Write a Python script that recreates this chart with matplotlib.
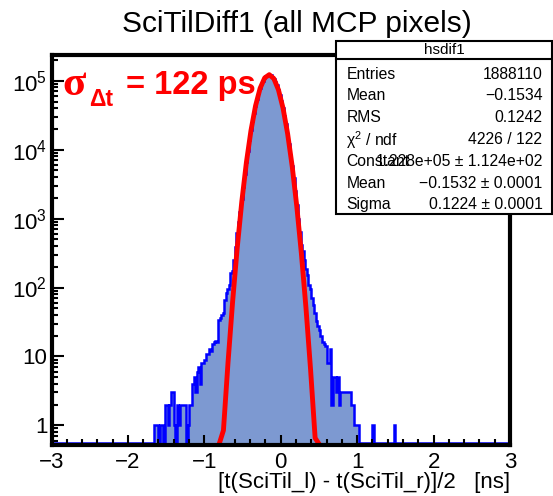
import numpy as np
import matplotlib
matplotlib.use("Agg")
import matplotlib.pyplot as plt
from matplotlib.patches import Rectangle
from matplotlib.lines import Line2D
from matplotlib.ticker import FixedLocator, LogLocator, MultipleLocator, NullFormatter

plt.rcParams['font.family'] = ['Liberation Sans', 'DejaVu Sans']
plt.rcParams['mathtext.fontset'] = 'custom'
plt.rcParams['mathtext.rm'] = 'Liberation Sans'
plt.rcParams['mathtext.it'] = 'Liberation Sans:italic'
plt.rcParams['mathtext.bf'] = 'Liberation Sans:bold'

# hsdif1: 300 bins of 0.02 ns on [-3, 3]; only the populated stretch is listed,
# starting at the bin whose low edge is FIRST_EDGE
X_MIN, X_MAX = -3.0, 3.0
BIN_WIDTH = 0.02
FIRST_EDGE = -1.66
counts = [
    1, 1, 1, 0, 1, 1, 0, 2, 2, 1,                                   # -1.65 .. -1.47
    2, 3, 3, 1, 0, 2, 1, 2, 2, 2,                                   # -1.45 .. -1.27
    2, 0, 1, 2, 2, 4, 5, 3, 6, 7,                                   # -1.25 .. -1.07
    4, 8, 8, 9, 11, 11, 13, 12, 15, 16,                             # -1.05 .. -0.87
    17, 16, 34, 36, 40, 42, 66, 82, 95, 110,                        # -0.85 .. -0.67
    160, 175, 250, 390, 610, 900, 1250, 1900, 2900, 4400,           # -0.65 .. -0.47
    6550, 9600, 13700, 19000, 25700, 33800, 43300, 54000, 65700, 77800,
    89700, 100700, 110100, 117300, 121600, 122700, 120600, 115400, 107500, 97500,
    86100, 74000, 62000, 50500, 40100, 31000, 23300, 17100, 12200, 8500,
    5800, 3850, 2500, 1600, 1000, 640, 420, 340, 250, 185,          # 0.15 .. 0.33
    150, 110, 95, 70, 55, 42, 33, 28, 24, 20,                       # 0.35 .. 0.53
    16, 15, 14, 8, 8, 13, 2, 5, 5, 3,                               # 0.55 .. 0.73
    5, 2, 3, 3, 3, 3, 3, 3, 3, 2,                                   # 0.75 .. 0.93
    2, 1, 1, 1, 0, 0, 0, 0, 0, 0,                                   # 0.95 .. 1.13
    0, 0, 0, 1, 0, 0, 0, 0, 0, 0,                                   # 1.15 .. 1.33
    0, 0, 0, 0, 0, 0, 0, 1,                                         # 1.35 .. 1.49
]

# gaus fit result
FIT_CONST = 1.228e5
FIT_MEAN = -0.1532
FIT_SIGMA = 0.1224
FIT_NPX = 100

X_TICKS = [-3, -2, -1, 0, 1, 2, 3]
X_TICK_LABELS = ["\u22123", "\u22122", "\u22121", "0", "1", "2", "3"]
Y_TICKS = [1, 10, 1e2, 1e3, 1e4, 1e5]
Y_TICK_LABELS = ["1", "10", r"$\mathregular{10^{2}}$", r"$\mathregular{10^{3}}$",
                 r"$\mathregular{10^{4}}$", r"$\mathregular{10^{5}}$"]
Y_LO, Y_HI = 0.518, 2.344e5
EMPTY_LEVEL = 0.563

TITLE = "SciTilDiff1 (all MCP pixels)"
X_LABEL = "[t(SciTil_l) - t(SciTil_r)]/2   [ns]"
STAT_NAME = "hsdif1"
STAT_LABELS = ["Entries", "Mean", "RMS", r"$\mathregular{\chi^{2}}$ / ndf",
               "Constant", "Mean", "Sigma"]
STAT_VALUES = ["1888110", "\u22120.1534", "0.1242", "4226 / 122",
               "1.228e+05 \u00b1 1.124e+02", "\u22120.1532 \u00b1 0.0001",
               "0.1224 \u00b1 0.0001"]

W, H = 553, 496
FILL = "#7d99d1"


def fx(px):
    return px / W


def fy(py):
    return 1.0 - py / H


nbins = int(round((X_MAX - X_MIN) / BIN_WIDTH))
edges = X_MIN + BIN_WIDTH * np.arange(nbins + 1)
values = np.zeros(nbins)
i0 = int(round((FIRST_EDGE - X_MIN) / BIN_WIDTH))
values[i0:i0 + len(counts)] = counts
shown = np.where(values > 0, values, EMPTY_LEVEL)

fig = plt.figure(figsize=(W / 100, H / 100), dpi=100)
ax = fig.add_axes([fx(51.5), fy(445), fx(510) - fx(51.5), fy(55.3) - fy(445)])

ax.stairs(shown, edges, baseline=EMPTY_LEVEL, fill=True, color=FILL, zorder=1)
ax.stairs(shown, edges, baseline=EMPTY_LEVEL, color="#0000ff", lw=1.8, zorder=1.5)

# fit function sampled like TF1 (npx points), clipped at the frame minimum
xf = X_MIN + (np.arange(FIT_NPX) + 0.5) * (X_MAX - X_MIN) / FIT_NPX
yf = FIT_CONST * np.exp(-0.5 * ((xf - FIT_MEAN) / FIT_SIGMA) ** 2)
above = yf >= Y_LO
keep = above | np.roll(above, 1) | np.roll(above, -1)
yf = np.where(keep, np.maximum(yf, Y_LO), np.nan)
ax.plot(xf, yf, color="#ff0000", lw=3.5, zorder=2, solid_joinstyle="round")

ax.set_xlim(X_MIN, X_MAX)
ax.set_yscale("log")
ax.set_ylim(Y_LO, Y_HI)

ax.xaxis.set_major_locator(FixedLocator(X_TICKS))
ax.set_xticklabels(X_TICK_LABELS)
ax.xaxis.set_minor_locator(MultipleLocator(0.2))
ax.yaxis.set_major_locator(FixedLocator(Y_TICKS))
ax.set_yticklabels(Y_TICK_LABELS)
ax.yaxis.set_minor_locator(LogLocator(base=10, subs=np.arange(2, 10)))
ax.yaxis.set_minor_formatter(NullFormatter())

ax.tick_params(which="both", direction="in", top=False, right=False,
               width=1.5, labelsize=16, colors="black")
ax.tick_params(axis="x", which="major", length=7.5, pad=5)
ax.tick_params(axis="x", which="minor", length=4)
ax.tick_params(axis="y", which="major", length=8.5, pad=3)
ax.tick_params(axis="y", which="minor", length=4.5)
for sp in ax.spines.values():
    sp.set_linewidth(3.0)
    sp.set_zorder(3)

fig.text(fx(297), fy(32), TITLE, ha="center", va="baseline", fontsize=21.5)
fig.text(fx(510), fy(488), X_LABEL, ha="right", va="baseline", fontsize=16)

# resolution label: sigma with a bold Delta-t subscript
fig.text(fx(62), fy(95), "\u03c3", color="#ff0000", fontsize=31,
         family=["Liberation Serif", "DejaVu Serif"], fontweight="bold",
         va="baseline", ha="left")
fig.text(fx(89), fy(106), "\u0394t", color="#ff0000", fontsize=16.5,
         fontweight="bold", va="baseline", ha="left")
fig.text(fx(126), fy(94), "= 122 ps", color="#ff0000", fontsize=23.5,
         fontweight="bold", va="baseline", ha="left")

# statistics box
bx0, bx1, by0, by1 = 336, 552, 40.5, 214
fig.patches.append(Rectangle((fx(bx0), fy(by1)), fx(bx1) - fx(bx0), fy(by0) - fy(by1),
                             transform=fig.transFigure, facecolor="white",
                             edgecolor="black", lw=1.5, zorder=10))
fig.lines.append(Line2D([fx(bx0), fx(bx1)], [fy(58.5), fy(58.5)],
                        transform=fig.transFigure, color="black", lw=1.5, zorder=11))
fig.text(fx((bx0 + bx1) / 2), fy(49.5), STAT_NAME, ha="center", va="center",
         fontsize=11, zorder=12)
for i, (lab, val) in enumerate(zip(STAT_LABELS, STAT_VALUES)):
    yy = fy(72.7 + i * 21.77)
    fig.text(fx(346.5), yy, lab, ha="left", va="center_baseline", fontsize=11.3, zorder=12)
    fig.text(fx(542.5), yy, val, ha="right", va="center_baseline", fontsize=11.3, zorder=12)

fig.savefig("out.png", dpi=100)
